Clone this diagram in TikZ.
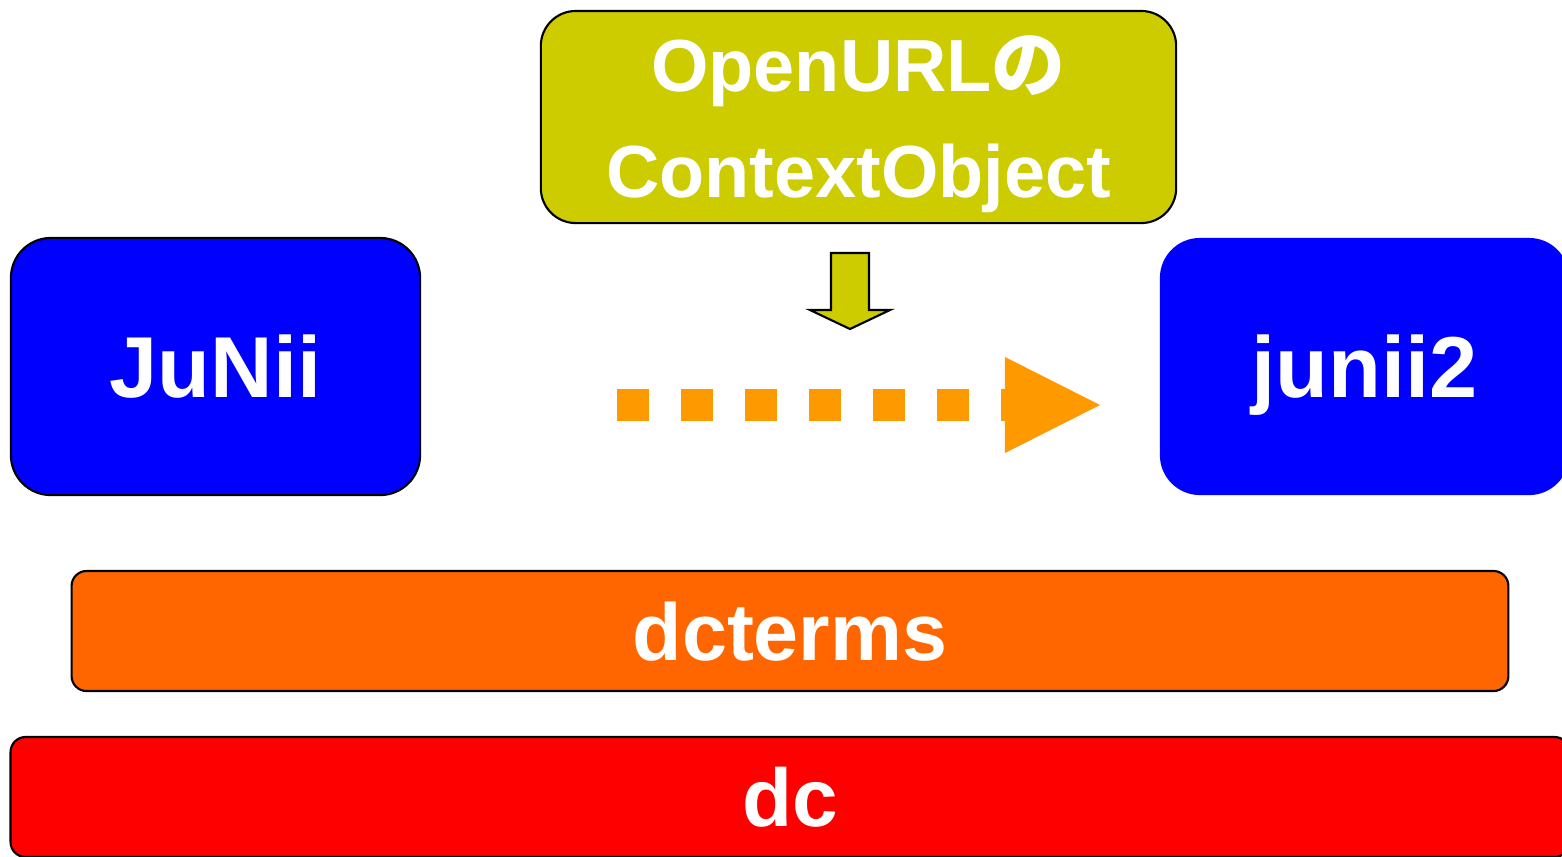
\documentclass[tikz,border=0pt]{standalone}
\usepackage{fontspec}
\setmainfont{Liberation Sans}
\newfontfamily\cjk{Noto Sans CJK JP}
\usetikzlibrary{arrows.meta}
\definecolor{olivebox}{HTML}{CCCC00}
\definecolor{darrow}{HTML}{FF9900}
\definecolor{termsbar}{HTML}{FF6600}

\begin{document}
\begin{tikzpicture}[x=0.01cm,y=-0.01cm]
            \tikzset{
                box/.style={rounded corners=0.4cm,text=white,font=\bfseries,inner sep=0pt,text depth=0pt},
                bar/.style={rounded corners=0.15cm,draw=black,line width=0.6pt,text=white,inner sep=0pt,text depth=0pt},
                bigname/.style={font=\fontsize{24.6}{30}\selectfont\bfseries},}
            \useasboundingbox (0,0) rectangle (1562,856);
            % top box
            \node [box,draw=black,line width=0.6pt,fill=olivebox,minimum width=6.35cm,minimum height=2.12cm,
                rounded corners=0.35cm] (co) at (858.5,117) {};
            \node [align=center,text=white,font=\fontsize{21}{30.2}\selectfont\bfseries,inner sep=0pt]
                (cotext) at ([yshift=-0.07cm]co.center) {OpenURL{\cjk の}\\ContextObject};
            % the two formats
            \node [box,bigname,draw=black,line width=0.6pt,fill=blue,minimum width=4.09cm,minimum height=2.57cm]
                (junii) at (215.5,366.5) {JuNii};
            \node [box,bigname,fill=blue,minimum width=4.09cm,minimum height=2.57cm]
                (junii2) at (1364.5,366.5) {junii2};
            % shared element sets
            \node [bar,fill=termsbar,minimum width=14.36cm,minimum height=1.2cm,
                font=\fontsize{23}{27}\selectfont\bfseries] (dcterms) at (790,631) {dcterms};
            \node [bar,fill=red,minimum width=15.58cm,minimum height=1.2cm,
                font=\fontsize{23.3}{27}\selectfont\bfseries] (dc) at (790,797) {dc};
            % mapping arrow
            \coordinate (from) at (617,405);
            \coordinate (to) at (1100,405);
            \draw [darrow,line width=0.32cm,dash pattern=on 0.32cm off 0.32cm,
                -{Triangle[length=0.95cm,width=0.96cm,line width=0pt]}] (from) -- (to);
            \draw [fill=olivebox,line width=0.6pt]
                (831,253) -- (869,253) -- (869,310) -- (890,310) -- (850,329) -- (810,310) -- (831,310) -- cycle;
        \end{tikzpicture}
\end{document}
